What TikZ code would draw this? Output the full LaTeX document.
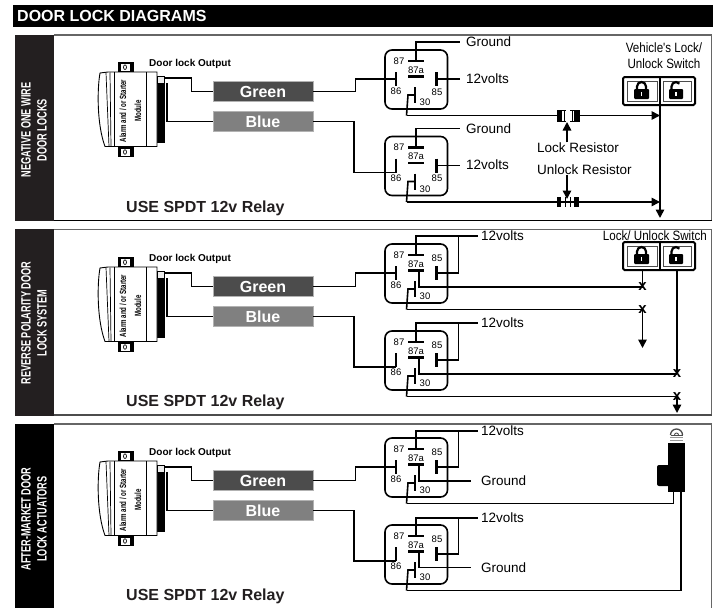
\documentclass[tikz,border=0pt]{standalone}
\usepackage{fontspec}
\setmainfont{Liberation Sans}
\newfontfamily\condfont[FakeStretch=0.68]{Liberation Sans}
\newfontfamily\switchfont[FakeStretch=0.86]{Liberation Sans}
\usetikzlibrary{arrows.meta}
\definecolor{sidegray}{HTML}{231F20}
\tikzset{
    wire/.style={line width=1.6pt,line join=miter},
    bar/.style={line width=2.2pt},
    arrowed/.style={-{Triangle[length=8.5pt,width=8.5pt]}},
    label/.style={font=\fontsize{13.5}{15}\selectfont,inner sep=0pt,anchor=west},
    pin/.style={font=\fontsize{9.5}{11}\selectfont,inner sep=0pt},
    xmark/.style={font=\bfseries\fontsize{15}{15}\selectfont,inner sep=0pt},
    sidetext/.style={white,rotate=90,align=center,inner sep=0pt,font=\condfont\bfseries\fontsize{13.5}{16}\selectfont},
    colorbox/.style={draw=gray!60,line width=.6pt,minimum width=100pt,minimum height=20pt,inner sep=0pt,text=white,font=\bfseries\fontsize{16}{16}\selectfont},
    title/.style={inner sep=0pt,anchor=west,font=\bfseries\fontsize{16}{16}\selectfont},
    % Relay: the number is the height of the 85 label
    pics/relay/.style={code={
        \draw[line width=1.6pt,rounded corners=7pt] (0,0) rectangle (62.5,59);
        \draw[bar] (23,11) -- (39,11);
        \draw[bar] (23,26.5) -- (39,26.5);
        \draw[bar] (11,22) -- (11,36);
        \draw[bar] (51.5,22) -- (51.5,36);
        \draw[bar] (30,37) -- (30,53);
        \draw[wire] (30,45) -- (23,45) -- (21.5,65.5);
        \coordinate (-87) at (31,11);
        \coordinate (-87a) at (34,26.5);
        \coordinate (-86) at (11,29);
        \coordinate (-86b) at (11,36);
        \coordinate (-85) at (51.5,29);
        \coordinate (-30) at (21.5,65.5);
        \node[pin] (-l87) at (14,11) {87};
        \node[pin] (-l87a) at (31,20) {87a};
        \node[pin] (-l86) at (11,41.5) {86};
        \node[pin] (-l85) at (52,#1) {85};
        \node[pin] (-l30) at (40,52.5) {30};
    }},
    % Module with its two coloured wires
    pics/module/.style={code={
        \fill (118,62) rectangle (134,72);
        \fill (118,147) rectangle (134,156.5);
        \draw[fill=white,draw=white] (121,64) rectangle (129,70.5);
        \draw[fill=white,draw=white] (121,149) rectangle (129,155);
        \draw[line width=.7pt] (125,67.2) ellipse (1.5 and 2.3);
        \draw[line width=.7pt] (125,152) ellipse (1.5 and 2.3);
        \fill (157,84) rectangle (165,143);
        \draw[line width=.9pt,fill=white] (108,72) -- (100,73) .. controls (97,90) and (97,125) .. (105,146.5) -- (157,146.5) -- (157,72) -- cycle;
        \draw[line width=.7pt] (106,72.5) -- (109,146.5);
        \draw[line width=.7pt] (110,72.5) -- (111,146.5);
        \draw[line width=.9pt] (114,72) -- (114,146.5);
        \draw[line width=.9pt] (146,72) -- (146,146.5);
        \draw[line width=.8pt,fill=gray!15] (157.5,76) rectangle (164.5,83);
        \coordinate (-plug) at (164.5,78);
        \coordinate (-plugb) at (167,83);
        \node[colorbox,fill=black!70] (-green) at (263,91.5) {Green};
        \node[colorbox,fill=black!50] (-blue) at (263,121.5) {Blue};
        \draw[wire] (-plug) -| (191.5,91.5) -- (-green.west);
        \draw[wire] (-plugb) |- (-blue.west);
        \node[font=\bfseries\fontsize{10}{10}\selectfont,inner sep=0pt,anchor=west] (-out) at (149,63.5) {Door lock Output};
        \node[rotate=90,align=center,inner sep=0pt,font=\condfont\bfseries\fontsize{9}{15}\selectfont] (-name) at (130.5,111) {Alarm and / or Starter\\Module};
    }},
    % Switch with the lock and the unlock button
    pics/lockswitch/.style={code={
        \draw[line width=2pt,fill=white,rounded corners=1.5pt] (0,0) rectangle (72,28);
        \draw[line width=2.4pt] (37,0) -- (37,28);
        \draw[line width=.8pt,draw=black!70] (4,4) rectangle (34,24);
        \draw[line width=.8pt,draw=black!70] (40,4) rectangle (68,24);
        % Lock
        \draw[line width=2.2pt] (14,13) -- (14,9.5) arc (180:360:4.5) -- (23,13);
        \fill[rounded corners=1pt] (11,12) rectangle (26,22);
        \fill[white] (17.7,14.5) rectangle (19.3,19);
        % Unlock
        \draw[line width=2.2pt] (48.5,13) -- (48.5,9.5) arc (180:320:4.5);
        \fill[rounded corners=1pt] (46,12) rectangle (60,22);
        \fill[white] (52.2,14.5) rectangle (53.8,19);
        \coordinate (-lock) at (19.5,28);
        \coordinate (-mid) at (37,28);
        \coordinate (-unlock) at (54,28);
    }},
    % Resistor bands, open or closed
    pics/lockres/.style={code={
        \draw[fill=white,line width=.8pt] (-11,-5.5) rectangle (11,5.5);
        \fill (-11,-5.5) rectangle (-6,5.5);
        \fill (6,-5.5) rectangle (11,5.5);
        \fill[white] (-2,-6.5) rectangle (2,6.5);
        \draw[line width=.6pt] (-4,-5.5) -- (-4,5.5);
        \draw[line width=.6pt] (4,-5.5) -- (4,5.5);
        \coordinate (-bot) at (-1,6.5);
    }},
    pics/unlockres/.style={code={
        \draw[line width=.8pt] (-11,-5) -- (-11,5);
        \fill (-11,-5) rectangle (-7,5);
        \fill (6,-5) rectangle (11,5);
        \draw[line width=.7pt] (-3,-5) -- (-3,5);
        \draw[line width=.7pt] (2,-5) -- (2,5);
        \coordinate (-top) at (-1,-3);
    }},
}
\begin{document}
    \begin{tikzpicture}[x=1pt,y=-1pt]
        \useasboundingbox (0,0) rectangle (725,608);

        % Header
        \fill (13,5) rectangle (712.7,27);
        \node[title,white] (head) at (17,15.5) {DOOR LOCK DIAGRAMS};

        % Panel frames
        \draw[black!60,line width=1.5pt] (54,35) -- (711.5,35) -- (711.5,220);
        \draw[line width=.8pt] (54,220.5) -- (711.5,220.5);
        \draw[black!60,line width=1.2pt] (54,229.5) -- (711.5,229.5) -- (711.5,415);
        \draw[black!70,line width=1.2pt] (54,415) -- (711.5,415);
        \draw[black!60,line width=1.2pt] (54,424) -- (711.5,424) -- (711.5,608);

        % Side bars
        \fill[sidegray] (15,35) rectangle (54,221);
        \fill[sidegray] (15,229) rectangle (54,416);
        \fill (15,424) rectangle (54,608);
        \node[sidetext] (side1) at (34,130) {NEGATIVE ONE WIRE\\DOOR LOCKS};
        \node[sidetext] (side2) at (34,323) {REVERSE POLARITY DOOR\\LOCK SYSTEM};
        \node[sidetext] (side3) at (34,519) {AFTER-MARKET DOOR\\LOCK ACTUATORS};

        % Negative one wire door locks
        \pic (m1) at (0,0) {module};
        \pic (r1) at (385,50) {relay=42};
        \pic (r2) at (385,136.5) {relay=42};
        \pic (sw1) at (623,77) {lockswitch};
        \node[title,text=sidegray] (use1) at (126,208) {USE SPDT 12v Relay};
        \node[label] (gnd1) at (466,42) {Ground};
        \node[label] (volt1) at (466,78.5) {12volts};
        \node[label] (gnd2) at (466,128.5) {Ground};
        \node[label] (volt2) at (466,165) {12volts};
        \node[align=center,inner sep=0pt,font=\switchfont\fontsize{13.5}{16}\selectfont] (swtext1) at (664,56) {Vehicle's Lock/\\Unlock Switch};
        \draw[wire] (m1-green.east) -- ++(42,0) |- (r1-86);
        \draw[wire] (m1-blue.east) -- ++(40.5,0) |- (r2-86b);
        \draw[wire] (r1-87) |- ([xshift=-6pt]gnd1.west);
        \draw[wire] (r1-85) -- ([xshift=-6pt]volt1.west |- r1-85);
        \draw[wire] (r2-87) |- ([xshift=-6pt]gnd2.west);
        \draw[wire] (r2-85) -- ([xshift=-6pt]volt2.west |- r2-85);
        \draw[wire,arrowed] (r1-30) -- (sw1-mid |- r1-30);
        \draw[wire,arrowed] (r2-30) -- (sw1-mid |- r2-30);
        \draw[wire,arrowed] (sw1-mid) -- ++(0,113);
        \pic (res1) at (568,115.5) {lockres};
        \pic (res2) at (568,202) {unlockres};
        \node[label] (locktext) at (537,147.5) {Lock Resistor};
        \node[label] (unlocktext) at (537,169.5) {Unlock Resistor};
        \draw[wire,arrowed] (res1-bot |- locktext.north) -- (res1-bot);
        \draw[wire,arrowed] (res2-top |- unlocktext.south) -- (res2-top);

        % Reverse polarity door lock system
        \pic (m2) at (0,195) {module};
        \pic (r3) at (385,244) {relay=14};
        \pic (r4) at (385,331) {relay=14};
        \pic (sw2) at (623,242) {lockswitch};
        \node[title,text=sidegray] (use2) at (126,402) {USE SPDT 12v Relay};
        \node[label] (volt3) at (481,236) {12volts};
        \node[label] (volt4) at (481,323) {12volts};
        \node[align=center,inner sep=0pt,anchor=east,font=\switchfont\fontsize{13.5}{16}\selectfont] (swtext2) at (707,236) {Lock/ Unlock Switch};
        \node[xmark] (x1) at (642.5,287) {x};
        \node[xmark] (x2) at (642.5,309.5) {x};
        \node[xmark] (x3) at (677,374) {x};
        \node[xmark] (x4) at (677,396.5) {x};
        \coordinate (end1) at (642.5,348);
        \coordinate (end2) at (677,413);
        \draw[wire] (m2-green.east) -- ++(42,0) |- (r3-86);
        \draw[wire] (m2-blue.east) -- ++(40.5,0) |- (r4-86b);
        \draw[wire] (r3-87) |- ([xshift=-3pt]volt3.west);
        \draw[wire] (r3-85) -- ++(22,0) |- ([xshift=-3pt]volt3.west);
        \draw[wire] (r4-87) |- ([xshift=-3pt]volt4.west);
        \draw[wire] (r4-85) -- ++(22,0) |- ([xshift=-3pt]volt4.west);
        \draw[wire] (r3-87a) |- (x1.center);
        \draw[wire] (r3-30) -- (x2.center);
        \draw[wire] (r4-87a) |- (x3.center);
        \draw[wire] (r4-30) -- (x4.center);
        \draw[wire] (sw2-lock) -- (x1.center);
        \draw[wire] (sw2-unlock) -- (x3.center);
        \draw[wire,arrowed] (x2.center) -- (end1);
        \draw[wire,arrowed] (x4.center) -- (end2);

        % After-market door lock actuators
        \pic (m3) at (0,389) {module};
        \pic (r5) at (385,438) {relay=14};
        \pic (r6) at (385,525) {relay=14};
        \node[title,text=sidegray] (use3) at (126,596) {USE SPDT 12v Relay};
        \node[label] (volt5) at (481,431) {12volts};
        \node[label] (volt6) at (481,518) {12volts};
        \node[label] (gnd3) at (481,481) {Ground};
        \node[label] (gnd4) at (481,567.5) {Ground};
        \draw[wire] (m3-green.east) -- ++(42,0) |- (r5-86);
        \draw[wire] (m3-blue.east) -- ++(40.5,0) |- (r6-86b);
        \draw[wire] (r5-87) |- ([xshift=-3pt]volt5.west);
        \draw[wire] (r5-85) -- ++(22,0) |- ([xshift=-3pt]volt5.west);
        \draw[wire] (r6-87) |- ([xshift=-3pt]volt6.west);
        \draw[wire] (r6-85) -- ++(22,0) |- ([xshift=-3pt]volt6.west);
        \draw[wire] (r5-87a) |- ([xshift=-10pt]gnd3.west);
        \draw[wire] (r6-87a) |- ([xshift=-10pt]gnd4.west);

        % Actuator
        \fill[rounded corners=2pt] (657,465) rectangle (670,486);
        \fill (668,442.5) rectangle (685,491.5);
        \draw[black!40,line width=.7pt] (670,437.5) -- (683,437.5);
        \draw[black!40,line width=.7pt] (670,440) -- (683,440);
        \draw[black!70,line width=1.3pt] (670.5,435) arc (180:360:6);
        \draw[black!70,line width=.9pt] (674.5,435) arc (180:360:2);
        \draw[black!70,line width=1pt] (670.5,435.5) -- (682.5,435.5);
        \coordinate (act1) at (673.5,491.5);
        \coordinate (act2) at (681,491.5);
        \draw[wire] (r5-30) -- (act1 |- r5-30) -- (act1);
        \draw[wire] (r6-30) -- (act2 |- r6-30) -- (act2);
    \end{tikzpicture}
\end{document}
